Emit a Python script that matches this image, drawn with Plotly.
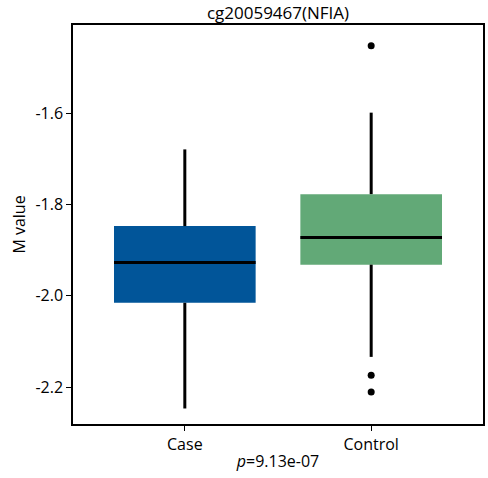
import plotly.graph_objects as go

categories = ["Case", "Control"]
lower_whisker = [-2.247, -2.134]
q1 = [-2.0155, -1.932]
median = [-1.927, -1.8723]
q3 = [-1.8475, -1.7775]
upper_whisker = [-1.6795, -1.599]
outliers = [[], [-1.4526, -2.174, -2.211]]
colors = ["#015599", "#62a977"]
title_text = "cg20059467(NFIA)"
y_title = "M value"
x_title = "<i>p</i>=9.13e-07"
y_ticks = [-2.2, -2.0, -1.8, -1.6]
y_ticklabels = ["-2.2", "-2.0", "-1.8", "-1.6"]

FONT = "Open Sans"
BW = 0.76

fig = go.Figure()
for i, cat in enumerate(categories):
    # whiskers
    fig.add_trace(go.Scatter(x=[i, i], y=[lower_whisker[i], q1[i]], mode="lines",
                             line=dict(color="black", width=3), showlegend=False, hoverinfo="skip"))
    fig.add_trace(go.Scatter(x=[i, i], y=[q3[i], upper_whisker[i]], mode="lines",
                             line=dict(color="black", width=3), showlegend=False, hoverinfo="skip"))
    # box body
    fig.add_trace(go.Bar(x=[i], y=[q3[i] - q1[i]], base=[q1[i]], width=BW,
                         marker=dict(color=colors[i], line=dict(width=0)), showlegend=False))
    # median
    fig.add_trace(go.Scatter(x=[i - BW / 2, i + BW / 2], y=[median[i], median[i]], mode="lines",
                             line=dict(color="black", width=3), showlegend=False, hoverinfo="skip"))
    # outliers
    if outliers[i]:
        fig.add_trace(go.Scatter(x=[i] * len(outliers[i]), y=outliers[i], mode="markers",
                                 marker=dict(color="black", size=7), showlegend=False))

fig.update_layout(
    width=488, height=478,
    margin=dict(l=73, r=3, t=25, b=54),
    paper_bgcolor="white", plot_bgcolor="white",
    font=dict(family=FONT, size=16, color="black"),
    title=dict(text=title_text, x=0.5, xanchor="center", xref="paper", y=0.973, yref="container",
               yanchor="middle", font=dict(family=FONT, size=17, color="black")),
    barmode="overlay",
    xaxis=dict(range=[-0.6, 1.6], tickvals=[0, 1], ticktext=categories, showgrid=False,
               zeroline=False, showline=True, linecolor="black", linewidth=1.5, mirror=True,
               ticks="outside", ticklen=5, tickcolor="black", tickwidth=1.3,
               tickfont=dict(family=FONT, size=16, color="black"),
               title=dict(text=x_title, standoff=2, font=dict(family=FONT, size=16, color="black"))),
    yaxis=dict(range=[-2.281, -1.407], tickvals=y_ticks, ticktext=y_ticklabels, showgrid=False,
               zeroline=False, showline=True, linecolor="black", linewidth=1.5, mirror=True,
               ticks="outside", ticklen=5, tickcolor="black", tickwidth=1.3,
               tickfont=dict(family=FONT, size=16, color="black"),
               title=dict(text=y_title, standoff=6, font=dict(family=FONT, size=16, color="black"))),
)

fig.write_html("out.html")
